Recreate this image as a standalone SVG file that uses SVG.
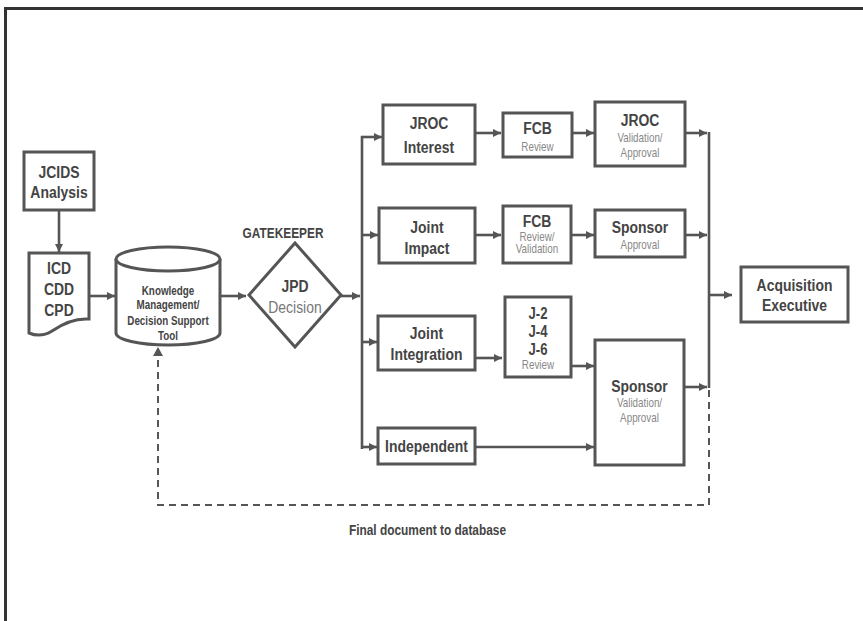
<svg xmlns="http://www.w3.org/2000/svg" width="863" height="621" viewBox="0 0 863 621">
<style>
.box{fill:#fff;stroke:#555;stroke-width:3}
.ln{fill:none;stroke:#555;stroke-width:2.6}
.dash{fill:none;stroke:#555;stroke-width:2;stroke-dasharray:7 5}
text{font-family:"Liberation Sans",Arial,sans-serif;text-anchor:middle}
.t{font-size:17px;font-weight:bold;fill:#444}
.j{font-size:16px;font-weight:bold;fill:#444}
.s{font-size:12px;fill:#888}
.k{font-size:12px;font-weight:bold;fill:#444}
.g{font-size:14.5px;font-weight:bold;fill:#444}
.d{font-size:17px;fill:#777}
</style>
<defs>
<marker id="ah" viewBox="0 0 10 10" refX="10" refY="5" markerWidth="9" markerHeight="8" markerUnits="userSpaceOnUse" orient="auto">
<path d="M0 0L10 5L0 10z" fill="#555"/>
</marker>
</defs>
<rect width="863" height="621" fill="#fff"/>
<path d="M5.5 621V8.5H863" fill="none" stroke="#333" stroke-width="3"/>

<g id="connectors">
<line class="ln" x1="59" y1="211" x2="59" y2="252" marker-end="url(#ah)"/>
<line class="ln" x1="89" y1="296" x2="115" y2="296" marker-end="url(#ah)"/>
<line class="ln" x1="220" y1="296" x2="246" y2="296" marker-end="url(#ah)"/>
<line class="ln" x1="341" y1="296" x2="360" y2="296" marker-end="url(#ah)"/>
<line class="ln" x1="362" y1="136" x2="362" y2="449"/>
<line class="ln" x1="361" y1="137" x2="382" y2="137" marker-end="url(#ah)"/>
<line class="ln" x1="361" y1="235" x2="378" y2="235" marker-end="url(#ah)"/>
<line class="ln" x1="361" y1="342" x2="377" y2="342" marker-end="url(#ah)"/>
<line class="ln" x1="361" y1="447" x2="377" y2="447" marker-end="url(#ah)"/>
<line class="ln" x1="475" y1="133" x2="501" y2="133" marker-end="url(#ah)"/>
<line class="ln" x1="572" y1="133" x2="594" y2="133" marker-end="url(#ah)"/>
<line class="ln" x1="475" y1="235" x2="501" y2="235" marker-end="url(#ah)"/>
<line class="ln" x1="571" y1="235" x2="594" y2="235" marker-end="url(#ah)"/>
<line class="ln" x1="475" y1="358" x2="502" y2="358" marker-end="url(#ah)"/>
<line class="ln" x1="571" y1="366" x2="594" y2="366" marker-end="url(#ah)"/>
<line class="ln" x1="475" y1="447" x2="594" y2="447" marker-end="url(#ah)"/>
<line class="ln" x1="685" y1="133" x2="707" y2="133" marker-end="url(#ah)"/>
<line class="ln" x1="685" y1="235" x2="707" y2="235" marker-end="url(#ah)"/>
<line class="ln" x1="684" y1="387" x2="707" y2="387" marker-end="url(#ah)"/>
<line class="ln" x1="709" y1="132" x2="709" y2="388"/>
<line class="ln" x1="709" y1="295" x2="732" y2="295" marker-end="url(#ah)"/>
<path class="dash" d="M709 390V505H158V354"/>
<path d="M153 356L158 347L163 356z" fill="#555"/>
</g>

<g id="jcids">
<rect class="box" x="24" y="152" width="70" height="58"/>
<text class="t" transform="translate(59 178) scale(.82 1)">JCIDS</text>
<text class="t" transform="translate(59 198) scale(.82 1)">Analysis</text>
</g>

<g id="docs">
<path class="box" d="M29 253H89V319C75 318 62 324 52 331C44 336 36 336 29 333Z"/>
<text class="t" transform="translate(59 274) scale(.82 1)">ICD</text>
<text class="t" transform="translate(59 295) scale(.82 1)">CDD</text>
<text class="t" transform="translate(59 316) scale(.82 1)">CPD</text>
</g>

<g id="kmdst">
<path class="box" d="M116 259V333A52 12 0 0 0 220 333V259A52 12 0 0 0 116 259Z"/>
<path class="box" d="M116 259A52 12 0 0 0 220 259" fill="none"/>
<text class="k" transform="translate(168 295) scale(.82 1)">Knowledge</text>
<text class="k" transform="translate(168 309) scale(.82 1)">Management/</text>
<text class="k" transform="translate(168 325) scale(.82 1)">Decision Support</text>
<text class="k" transform="translate(168 340) scale(.82 1)">Tool</text>
</g>

<g id="gatekeeper">
<text class="g" transform="translate(283 238) scale(.82 1)">GATEKEEPER</text>
<path class="box" d="M295 243L341 295L295 347L249 295Z"/>
<text class="t" transform="translate(295 292) scale(.82 1)">JPD</text>
<text class="d" transform="translate(295 313) scale(.82 1)">Decision</text>
</g>

<g id="jroc-interest">
<rect class="box" x="383" y="105" width="92" height="59"/>
<text class="t" transform="translate(429 129) scale(.82 1)">JROC</text>
<text class="t" transform="translate(429 153) scale(.82 1)">Interest</text>
</g>
<g id="fcb-review">
<rect class="box" x="503" y="113" width="69" height="44"/>
<text class="t" transform="translate(537.5 134) scale(.82 1)">FCB</text>
<text class="s" transform="translate(537.5 151) scale(.82 1)">Review</text>
</g>
<g id="jroc-validation">
<rect class="box" x="595" y="102" width="90" height="64"/>
<text class="t" transform="translate(640 126) scale(.82 1)">JROC</text>
<text class="s" transform="translate(640 142) scale(.82 1)">Validation/</text>
<text class="s" transform="translate(640 157) scale(.82 1)">Approval</text>
</g>

<g id="joint-impact">
<rect class="box" x="379" y="208" width="96" height="55"/>
<text class="t" transform="translate(427 233) scale(.82 1)">Joint</text>
<text class="t" transform="translate(427 254) scale(.82 1)">Impact</text>
</g>
<g id="fcb-review-validation">
<rect class="box" x="503" y="206" width="68" height="57"/>
<text class="t" transform="translate(537 227) scale(.82 1)">FCB</text>
<text class="s" transform="translate(537 240.5) scale(.82 1)">Review/</text>
<text class="s" transform="translate(537 253) scale(.82 1)">Validation</text>
</g>
<g id="sponsor-approval">
<rect class="box" x="595" y="210" width="90" height="47"/>
<text class="t" transform="translate(640 233) scale(.82 1)">Sponsor</text>
<text class="s" transform="translate(640 249) scale(.82 1)">Approval</text>
</g>

<g id="joint-integration">
<rect class="box" x="378" y="316" width="97" height="54"/>
<text class="t" transform="translate(426.5 339) scale(.82 1)">Joint</text>
<text class="t" transform="translate(426.5 360) scale(.82 1)">Integration</text>
</g>
<g id="j-review">
<rect class="box" x="505" y="297" width="66" height="80"/>
<text class="j" transform="translate(538 318.5) scale(.82 1)">J-2</text>
<text class="j" transform="translate(538 337) scale(.82 1)">J-4</text>
<text class="j" transform="translate(538 354.5) scale(.82 1)">J-6</text>
<text class="s" transform="translate(538 368.5) scale(.82 1)">Review</text>
</g>

<g id="independent">
<rect class="box" x="378" y="428" width="97" height="36"/>
<text class="t" transform="translate(426.5 452) scale(.82 1)">Independent</text>
</g>

<g id="sponsor-validation">
<rect class="box" x="595" y="340" width="89" height="125"/>
<text class="t" transform="translate(639.5 392) scale(.82 1)">Sponsor</text>
<text class="s" transform="translate(639.5 407) scale(.82 1)">Validation/</text>
<text class="s" transform="translate(639.5 422) scale(.82 1)">Approval</text>
</g>

<g id="acquisition">
<rect class="box" x="741" y="267" width="107" height="55"/>
<text class="t" transform="translate(794.5 291) scale(.82 1)">Acquisition</text>
<text class="t" transform="translate(794.5 311) scale(.82 1)">Executive</text>
</g>

<g id="label">
<text class="g" transform="translate(427.5 535) scale(.82 1)">Final document to database</text>
</g>
</svg>
